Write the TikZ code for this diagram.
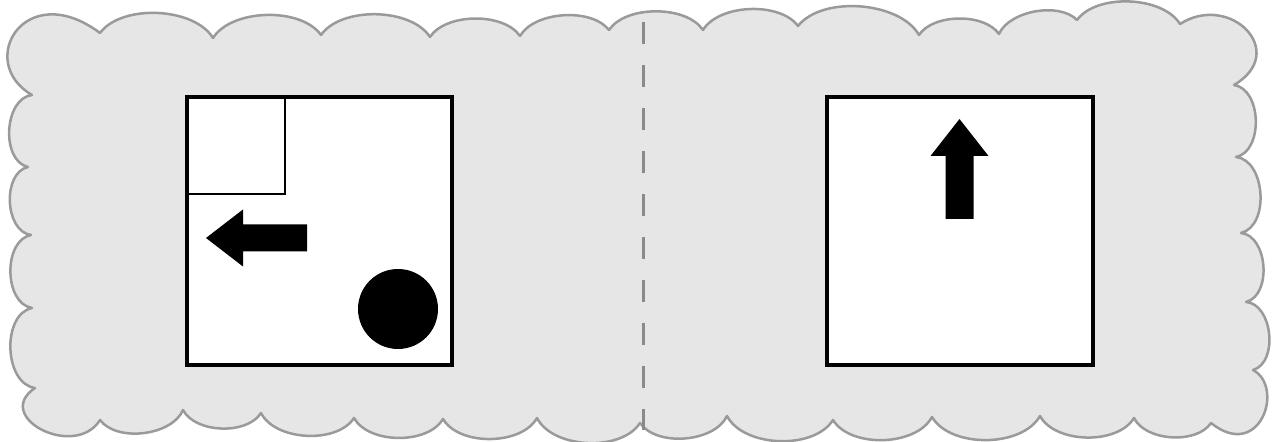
\documentclass[tikz,border=0pt]{standalone}
\usetikzlibrary{calc}
\definecolor{cloudfill}{HTML}{E6E6E6}
\definecolor{cloudedge}{HTML}{9A9A9A}
\definecolor{dashgray}{HTML}{8A8A8A}
\tikzset{
  cloudline/.style={draw=cloudedge, fill=cloudfill, line width=1.25pt, line join=round},
  topbend/.style={bend left=56, looseness=0.82},
  sidebend/.style={bend left=80, looseness=1.0},
  botbend/.style={bend left=60, looseness=0.86},
  panel/.style={draw=black, fill=white, line width=1.6pt, rectangle, inner sep=0pt, outer sep=0pt},
  thinframe/.style={draw=black, line width=1pt},
  divider/.style={draw=dashgray, line width=1.5pt, dash pattern=on 11pt off 10.5pt},
  blackfill/.style={fill=black},
}
\begin{document}
\begin{tikzpicture}[x=0.5pt,y=0.5pt]
\useasboundingbox[fill=white] (0,0) rectangle (1276,442);
% cloud cusps
\coordinate (T1) at (100,409);
\coordinate (T2) at (213,404);
\coordinate (T3) at (321,407);
\coordinate (T4) at (430,405);
\coordinate (T5) at (520,406);
\coordinate (T6) at (609,412);
\coordinate (T7) at (703,412);
\coordinate (T8) at (798,416);
\coordinate (T9) at (919,407);
\coordinate (T10) at (999,408);
\coordinate (T11) at (1077,422);
\coordinate (T12) at (1180,418);
\coordinate (R1) at (1234,357);
\coordinate (R2) at (1236,285);
\coordinate (R3) at (1241,209);
\coordinate (R4) at (1246,140);
\coordinate (R5) at (1253,72);
\coordinate (B1) at (1211,19);
\coordinate (B2) at (1134,24);
\coordinate (B3) at (1040,26);
\coordinate (B4) at (932,25);
\coordinate (B5) at (833,22);
\coordinate (B6) at (727,26);
\coordinate (B7) at (640,19);
\coordinate (B8) at (537,24);
\coordinate (B9) at (443,23);
\coordinate (B10) at (354,24);
\coordinate (B11) at (261,29);
\coordinate (B12) at (183,32);
\coordinate (B13) at (100,22);
\coordinate (L5) at (35,54);
\coordinate (L4) at (32,134);
\coordinate (L3) at (31,207);
\coordinate (L2) at (28,275);
\coordinate (L1) at (32,347);
\path[cloudline] (L1) .. controls (-25,380) and (25,465) .. (T1)
  to[topbend] (T2) to[topbend] (T3) to[topbend] (T4) to[topbend] (T5)
  to[topbend] (T6) to[topbend] (T7) to[topbend] (T8) to[topbend] (T9)
  to[topbend] (T10) to[topbend] (T11) to[topbend] (T12)
  .. controls (1230,450) and (1290,390) .. (R1)
  to[sidebend] (R2) to[sidebend] (R3) to[sidebend] (R4) to[sidebend] (R5)
  .. controls (1285,55) and (1260,-20) .. (B1)
  to[botbend] (B2) to[botbend] (B3) to[botbend] (B4) to[botbend] (B5)
  to[botbend] (B6) to[botbend] (B7) to[botbend] (B8) to[botbend] (B9)
  to[botbend] (B10) to[botbend] (B11) to[botbend] (B12) to[botbend] (B13)
  .. controls (75,-18) and (-8,25) .. (L5)
  to[sidebend] (L4) to[sidebend] (L3) to[sidebend] (L2) to[sidebend] (L1) -- cycle;
% divider
\coordinate (dtop) at (643,420);
\coordinate (dbot) at (643,12);
\draw[divider] (dtop) -- (dbot);
% panels
\node[panel, minimum width=132.5pt, minimum height=134pt] (leftpanel) at (319.5,211) {};
\node[panel, minimum width=133pt, minimum height=134pt] (rightpanel) at (960,211) {};
% small square in the left panel
\coordinate (sqcorner) at (285,248);
\draw[thinframe] (leftpanel.north west -| sqcorner) -- (sqcorner) -- (sqcorner -| leftpanel.north west);
% left arrow
\coordinate (la) at (206,204);
\fill[blackfill] (la) -- ++(37,28.5) -- ++(0,-15) -- ++(64,0) -- ++(0,-27) -- ++(-64,0) -- ++(0,-15) -- cycle;
% ball
\node[circle, fill=black, minimum size=40pt, inner sep=0pt] (ball) at (398,133) {};
% up arrow
\coordinate (ua) at (959.5,323);
\fill[blackfill] (ua) -- ++(29,-37) -- ++(-15,0) -- ++(0,-63) -- ++(-28,0) -- ++(0,63) -- ++(-15,0) -- cycle;
\end{tikzpicture}
\end{document}
